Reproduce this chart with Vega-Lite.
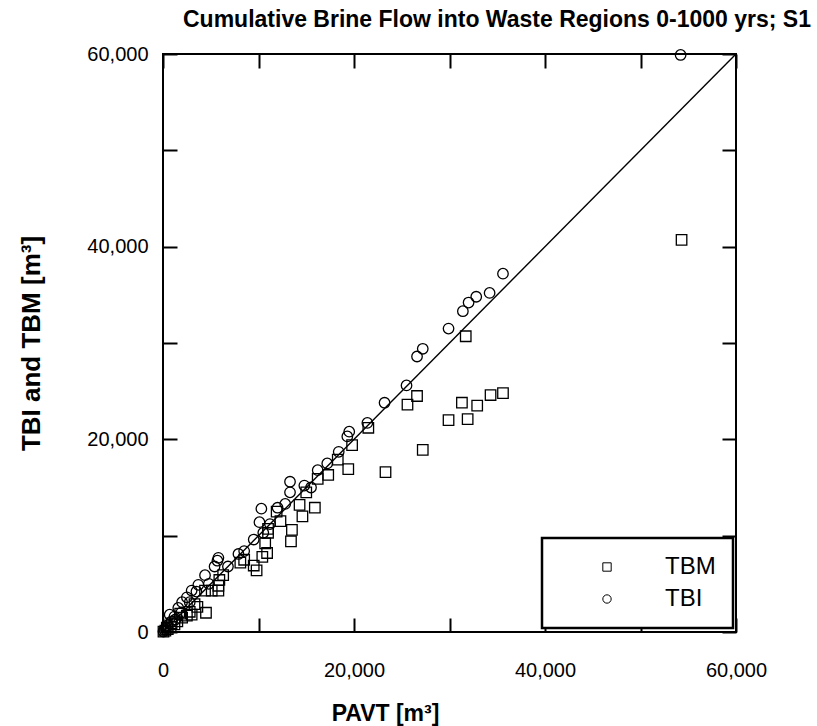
{
  "$schema": "https://vega.github.io/schema/vega-lite/v6.json",
  "autosize": "none",
  "padding": {"left": 163, "top": 54, "right": 81, "bottom": 94},
  "width": 573,
  "height": 578,
  "background": "white",
  "config": {
    "font": "Liberation Sans",
    "view": {"stroke": "black", "strokeWidth": 2},
    "axis": {"grid": false, "domain": false, "tickColor": "black", "tickWidth": 2, "tickSize": -14, "labelColor": "black", "titleColor": "black", "labelFont": "Liberation Sans", "titleFont": "Liberation Sans", "labelFlush": false},
    "legend": {"strokeWidth": 2.5}
  },
  "title": {
    "text": "Cumulative Brine Flow into Waste Regions 0-1000 yrs; S1",
    "anchor": "start",
    "frame": "group",
    "dx": 20,
    "offset": 12,
    "fontSize": 23,
    "fontWeight": "bold",
    "font": "Liberation Sans",
    "color": "black"
  },
  "datasets": {
    "diag": [{"x": 0, "y": 0}, {"x": 60000, "y": 60000}],
    "pts": [
      {"series": "TBI", "pavt": 54200, "val": 59900},
      {"series": "TBI", "pavt": 35600, "val": 37200},
      {"series": "TBI", "pavt": 34200, "val": 35200},
      {"series": "TBI", "pavt": 32800, "val": 34800},
      {"series": "TBI", "pavt": 32000, "val": 34200},
      {"series": "TBI", "pavt": 31400, "val": 33300},
      {"series": "TBI", "pavt": 29900, "val": 31500},
      {"series": "TBI", "pavt": 27200, "val": 29400},
      {"series": "TBI", "pavt": 26600, "val": 28600},
      {"series": "TBI", "pavt": 25500, "val": 25600},
      {"series": "TBI", "pavt": 23200, "val": 23800},
      {"series": "TBI", "pavt": 21400, "val": 21700},
      {"series": "TBI", "pavt": 19500, "val": 20800},
      {"series": "TBI", "pavt": 19300, "val": 20300},
      {"series": "TBI", "pavt": 18400, "val": 18700},
      {"series": "TBI", "pavt": 17200, "val": 17500},
      {"series": "TBI", "pavt": 16200, "val": 16800},
      {"series": "TBI", "pavt": 14800, "val": 15200},
      {"series": "TBI", "pavt": 13300, "val": 15600},
      {"series": "TBI", "pavt": 13300, "val": 14500},
      {"series": "TBI", "pavt": 12000, "val": 12900},
      {"series": "TBI", "pavt": 12800, "val": 13300},
      {"series": "TBI", "pavt": 10300, "val": 12800},
      {"series": "TBI", "pavt": 10100, "val": 11400},
      {"series": "TBI", "pavt": 11200, "val": 11200},
      {"series": "TBI", "pavt": 9500, "val": 9600},
      {"series": "TBI", "pavt": 8500, "val": 8400},
      {"series": "TBI", "pavt": 7900, "val": 8100},
      {"series": "TBI", "pavt": 5800, "val": 7700},
      {"series": "TBI", "pavt": 5700, "val": 7400},
      {"series": "TBI", "pavt": 5400, "val": 6800},
      {"series": "TBI", "pavt": 4400, "val": 5900},
      {"series": "TBI", "pavt": 3700, "val": 4900},
      {"series": "TBI", "pavt": 3000, "val": 4300},
      {"series": "TBI", "pavt": 2500, "val": 3600},
      {"series": "TBI", "pavt": 2000, "val": 3100},
      {"series": "TBI", "pavt": 1600, "val": 2500},
      {"series": "TBI", "pavt": 700, "val": 1800},
      {"series": "TBI", "pavt": 1200, "val": 1600},
      {"series": "TBI", "pavt": 900, "val": 1100},
      {"series": "TBI", "pavt": 500, "val": 700},
      {"series": "TBI", "pavt": 300, "val": 400},
      {"series": "TBI", "pavt": 150, "val": 200},
      {"series": "TBI", "pavt": 50, "val": 50},
      {"series": "TBI", "pavt": 10500, "val": 10300},
      {"series": "TBI", "pavt": 6800, "val": 6800},
      {"series": "TBI", "pavt": 4800, "val": 5000},
      {"series": "TBI", "pavt": 2800, "val": 3100},
      {"series": "TBI", "pavt": 1900, "val": 2000},
      {"series": "TBI", "pavt": 1300, "val": 1300},
      {"series": "TBI", "pavt": 15500, "val": 15000},
      {"series": "TBI", "pavt": 3500, "val": 4200},
      {"series": "TBM", "pavt": 54300, "val": 40700},
      {"series": "TBM", "pavt": 31700, "val": 30700},
      {"series": "TBM", "pavt": 35600, "val": 24800},
      {"series": "TBM", "pavt": 34300, "val": 24600},
      {"series": "TBM", "pavt": 32900, "val": 23500},
      {"series": "TBM", "pavt": 31300, "val": 23800},
      {"series": "TBM", "pavt": 26600, "val": 24500},
      {"series": "TBM", "pavt": 25600, "val": 23600},
      {"series": "TBM", "pavt": 29900, "val": 22000},
      {"series": "TBM", "pavt": 31900, "val": 22100},
      {"series": "TBM", "pavt": 27200, "val": 18900},
      {"series": "TBM", "pavt": 23300, "val": 16600},
      {"series": "TBM", "pavt": 21500, "val": 21200},
      {"series": "TBM", "pavt": 19800, "val": 19400},
      {"series": "TBM", "pavt": 19400, "val": 16900},
      {"series": "TBM", "pavt": 18300, "val": 17900},
      {"series": "TBM", "pavt": 17300, "val": 16300},
      {"series": "TBM", "pavt": 16200, "val": 15900},
      {"series": "TBM", "pavt": 15900, "val": 12900},
      {"series": "TBM", "pavt": 15000, "val": 14500},
      {"series": "TBM", "pavt": 14600, "val": 12000},
      {"series": "TBM", "pavt": 13500, "val": 10600},
      {"series": "TBM", "pavt": 13400, "val": 9400},
      {"series": "TBM", "pavt": 12300, "val": 11500},
      {"series": "TBM", "pavt": 11900, "val": 12500},
      {"series": "TBM", "pavt": 11000, "val": 10300},
      {"series": "TBM", "pavt": 10700, "val": 9200},
      {"series": "TBM", "pavt": 10400, "val": 7800},
      {"series": "TBM", "pavt": 10900, "val": 8200},
      {"series": "TBM", "pavt": 9800, "val": 6400},
      {"series": "TBM", "pavt": 9500, "val": 6900},
      {"series": "TBM", "pavt": 8100, "val": 7200},
      {"series": "TBM", "pavt": 8500, "val": 7500},
      {"series": "TBM", "pavt": 5800, "val": 4300},
      {"series": "TBM", "pavt": 5100, "val": 4300},
      {"series": "TBM", "pavt": 4400, "val": 4300},
      {"series": "TBM", "pavt": 5900, "val": 5400},
      {"series": "TBM", "pavt": 5800, "val": 4800},
      {"series": "TBM", "pavt": 4500, "val": 2000},
      {"series": "TBM", "pavt": 3600, "val": 2600},
      {"series": "TBM", "pavt": 3300, "val": 2900},
      {"series": "TBM", "pavt": 2800, "val": 2100},
      {"series": "TBM", "pavt": 2500, "val": 1700},
      {"series": "TBM", "pavt": 2000, "val": 1500},
      {"series": "TBM", "pavt": 1500, "val": 1100},
      {"series": "TBM", "pavt": 1200, "val": 800},
      {"series": "TBM", "pavt": 800, "val": 500},
      {"series": "TBM", "pavt": 500, "val": 300},
      {"series": "TBM", "pavt": 250, "val": 150},
      {"series": "TBM", "pavt": 50, "val": 30},
      {"series": "TBM", "pavt": 14300, "val": 13200},
      {"series": "TBM", "pavt": 11000, "val": 10700},
      {"series": "TBM", "pavt": 3000, "val": 1800},
      {"series": "TBM", "pavt": 6300, "val": 5900},
      {"series": "TBM", "pavt": 1800, "val": 1900},
      {"series": "TBM", "pavt": 900, "val": 900},
      {"series": "TBM", "pavt": 400, "val": 450}
    ]
  },
  "layer": [
    {
      "data": {"name": "diag"},
      "mark": {"type": "line", "color": "black", "strokeWidth": 1.4, "clip": true},
      "encoding": {
        "x": {"field": "x", "type": "quantitative", "scale": {"domain": [0, 60000], "nice": false},
          "axis": {"orient": "top", "labels": false, "title": null, "values": [0, 10000, 20000, 30000, 40000, 50000, 60000]}},
        "y": {"field": "y", "type": "quantitative", "scale": {"domain": [0, 60000], "nice": false},
          "axis": {"orient": "right", "labels": false, "title": null, "values": [0, 10000, 20000, 30000, 40000, 50000, 60000]}}
      }
    },
    {
      "data": {"name": "pts"},
      "mark": {"type": "point", "filled": false, "color": "black", "strokeWidth": 1.3, "size": 110, "opacity": 1},
      "encoding": {
        "x": {"field": "pavt", "type": "quantitative", "scale": {"domain": [0, 60000], "nice": false},
          "axis": {"orient": "bottom", "title": "PAVT [m³]", "values": [0, 10000, 20000, 30000, 40000, 50000, 60000],
            "labelExpr": "datum.value % 20000 === 0 ? datum.label : ''", "format": ",d",
            "labelFontSize": 20, "labelPadding": 42, "titleFontSize": 23, "titleFontWeight": "bold", "titlePadding": 22, "titleX": 222}},
        "y": {"field": "val", "type": "quantitative", "scale": {"domain": [0, 60000], "nice": false},
          "axis": {"orient": "left", "title": "TBI and TBM [m³]", "values": [0, 10000, 20000, 30000, 40000, 50000, 60000],
            "labelExpr": "datum.value % 20000 === 0 ? datum.label : ''", "format": ",d",
            "labelFontSize": 20, "labelPadding": 29, "titleFontSize": 26, "titleFontWeight": "bold", "titlePadding": 42}},
        "shape": {"field": "series", "type": "nominal",
          "scale": {"domain": ["TBM", "TBI"], "range": ["square", "circle"]},
          "legend": {"orient": "none", "legendX": 379, "legendY": 484, "title": null,
            "strokeColor": "black", "fillColor": "white", "padding": 17,
            "symbolOffset": 36, "labelOffset": 46, "labelFontSize": 24, "labelColor": "black",
            "symbolSize": 70, "symbolStrokeWidth": 1, "symbolStrokeColor": "black", "symbolFillColor": "transparent",
            "rowPadding": 8, "labelFont": "Liberation Sans"}}
      }
    }
  ],
  "resolve": {"axis": {"x": "independent", "y": "independent"}}
}
